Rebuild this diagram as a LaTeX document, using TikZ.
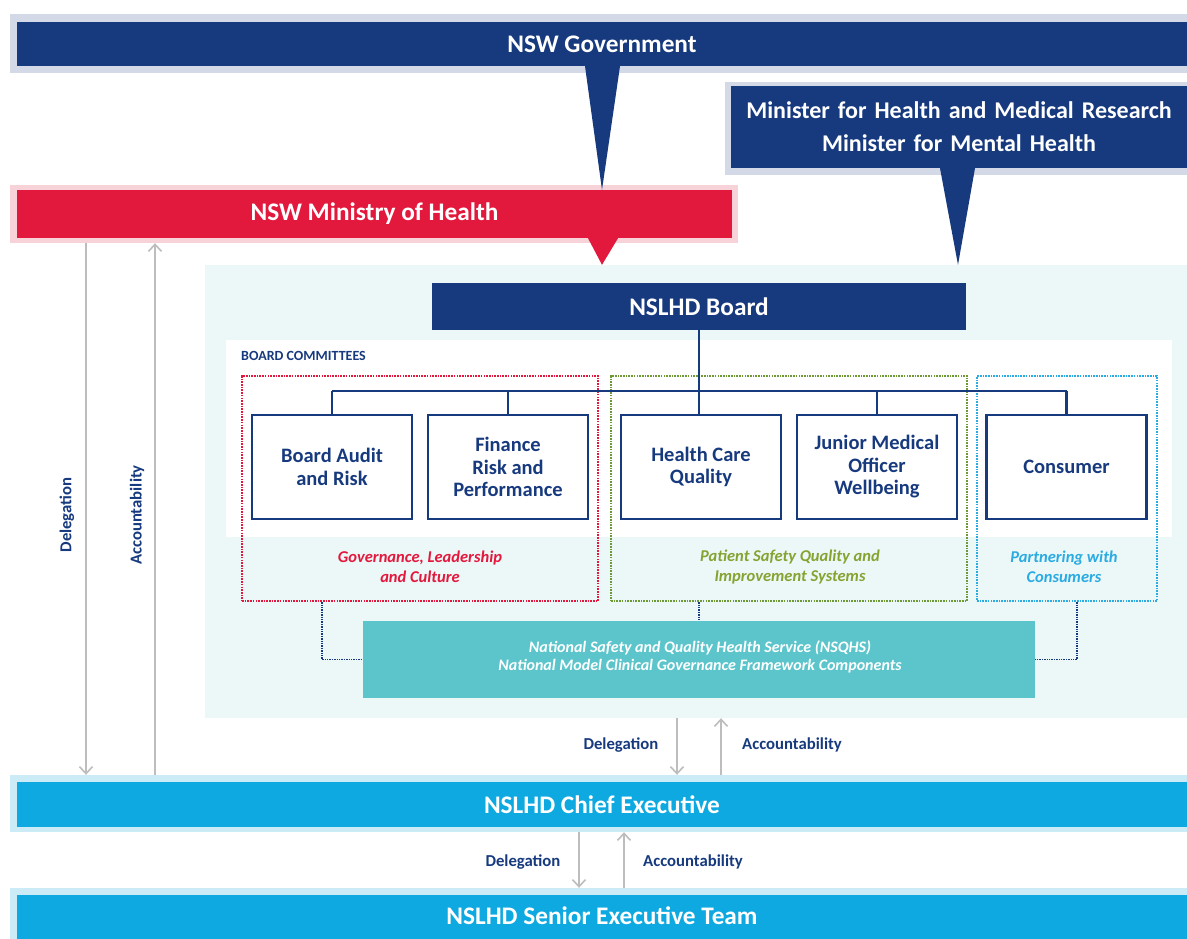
\documentclass[tikz,border=0pt]{standalone}
\usepackage{fontspec}
\setmainfont{Carlito}
\usetikzlibrary{arrows.meta,calc}
\definecolor{navy}{HTML}{173A7E}
\definecolor{navyband}{HTML}{D3D9E6}
\definecolor{mohred}{HTML}{E3183D}
\definecolor{pinkband}{HTML}{F7D2D9}
\definecolor{panelteal}{HTML}{ECF7F8}
\definecolor{nsqhs}{HTML}{5CC5CB}
\definecolor{cyanbar}{HTML}{0EA9E1}
\definecolor{cyanband}{HTML}{CBEBF7}
\definecolor{grnline}{HTML}{6E9A35}
\definecolor{grntext}{HTML}{86A332}
\definecolor{bluline}{HTML}{2AABE2}
\definecolor{arrowgrey}{HTML}{BDBDBD}
\tikzset{
  band/.style={fill=#1, draw=none, inner sep=0pt},
  bar/.style={fill=#1, draw=none, inner sep=0pt, text=white, font=\bfseries\fontsize{25.3}{30}\selectfont, align=center},
  combox/.style={draw=navy, line width=2.6pt, fill=white, minimum width=160pt, minimum height=104pt, inner sep=0pt, text=navy, align=center, font=\bfseries\fontsize{20.5}{22.5}\selectfont},
  grpbox/.style={draw=#1, line width=2.2pt, dash pattern=on 1.6pt off 1.1pt, minimum height=225pt, inner sep=0pt},
  grplabel/.style={font=\bfseries\itshape\fontsize{16.5}{20}\selectfont, text=#1, align=center, inner sep=0pt},
  tree/.style={draw=navy, line width=2.2pt},
  dotcon/.style={draw=navy, line width=1.9pt, dash pattern=on 1.4pt off 1pt},
  flow/.style={draw=arrowgrey, line width=2pt, -{Straight Barb[length=7pt,width=13pt,line width=1.6pt]}},
  flowlabel/.style={text=navy, font=\bfseries\fontsize{16.7}{18}\selectfont, inner sep=0pt}
}
\begin{document}
\begin{tikzpicture}[x=1pt,y=-1pt]
\useasboundingbox (0,0) rectangle (1187,938);
\fill[white] (0,0) rectangle (1187,938);

% NSW Government
\node[band=navyband, minimum width=1177pt, minimum height=59pt] (govband) at (598.5,43.5) {};
\node[bar=navy, minimum width=1170pt, minimum height=44pt] (gov) at (602,44) {NSW Government};

% Minister
\node[band=navyband, minimum width=462pt, minimum height=93pt] (minband) at (956,128.5) {};
\node[bar=navy, minimum width=456pt, minimum height=82pt, text width=456pt, font=\bfseries\fontsize{24}{29}\selectfont] (min) at (959,127)
  {Minister for Health and Medical Research\\[4pt]Minister for Mental Health};

% Ministry of Health
\node[band=pinkband, minimum width=728pt, minimum height=58pt] (mohband) at (374,214) {};
\node[bar=mohred, minimum width=715pt, minimum height=48pt] (moh) at (374.5,214) {NSW Ministry of Health};

% teal panel
\node[band=panelteal, minimum width=982pt, minimum height=453pt] (panel) at (696,491.5) {};

% pointers
\fill[navy] ($(gov.south)+(-17,0)$) -- ($(gov.south)+(18,0)$) -- (gov.south |- moh.north) -- cycle;
\fill[navy] ($(min.south)+(-19,0)$) -- ($(min.south)+(16,0)$) -- ($(min.south |- panel.north)+(-1,0)$) -- cycle;
\fill[mohred] ($(moh.south -| gov.south)+(-14,0)$) -- ($(moh.south -| gov.south)+(16,0)$) -- (gov.south |- panel.north) -- cycle;

% white committee panel
\node[band=white, minimum width=946pt, minimum height=197pt] (wpanel) at (699,438.5) {};
\node[anchor=west, text=navy, font=\bfseries\fontsize{14}{15}\selectfont, inner sep=0pt] (bctitle) at (241,356) {BOARD COMMITTEES};

% Board
\node[bar=navy, minimum width=534pt, minimum height=47pt] (board) at (699,306.5) {NSLHD Board};

% group dotted boxes
\node[grpbox=mohred, minimum width=356pt] (grpred) at (420,488.5) {};
\node[grpbox=grnline, minimum width=356pt] (grpgrn) at (789,488.5) {};
\node[grpbox=bluline, minimum width=180pt] (grpblu) at (1067,488.5) {};

% committee boxes
\node[combox] (bar) at (332,467) {Board Audit\\and Risk};
\node[combox] (frp) at (508,467) {Finance\\Risk and\\Performance};
\node[combox] (hcq) at (701,467) {Health Care\\Quality};
\node[combox] (jmo) at (877,467) {Junior Medical\\Officer\\Wellbeing};
\node[combox] (con) at (1066.5,467) {Consumer};

% tree
\coordinate (treey) at (0,391);
\draw[tree] (board.south) -- (board.south |- treey);
\draw[tree] (bar.north |- treey) -- (con.north |- treey);
\foreach \b in {bar,frp,jmo,con} \draw[tree] (\b.north |- treey) -- (\b.north);
\draw[tree] (board.south |- treey) -- (board.south |- hcq.north);

% group labels
\node[grplabel=mohred] (lred) at (420,567) {Governance, Leadership\\and Culture};
\node[grplabel=grntext] (lgrn) at (790,567) {Patient Safety Quality and\\Improvement Systems};
\node[grplabel=bluline] (lblu) at (1064,567) {Partnering with\\Consumers};

% NSQHS
\node[fill=nsqhs, minimum width=672pt, minimum height=77pt, inner sep=0pt] (nsq) at (699,659.5) {};
\node[text=white, font=\bfseries\itshape\fontsize{16}{18}\selectfont, align=center, inner sep=0pt] (nsqtext) at (700,657)
  {National Safety and Quality Health Service (NSQHS)\\National Model Clinical Governance Framework Components};

\draw[dotcon] ($(grpred.south west)+(81,0)$) |- (nsq.west);
\draw[dotcon] (nsq.north |- grpgrn.south) -- (nsq.north);
\draw[dotcon] ($(grpblu.south)+(10,0)$) |- (nsq.east);

% Chief executive
\node[band=cyanband, minimum width=1177pt, minimum height=57pt] (ceband) at (598.5,803.5) {};
\node[bar=cyanbar, minimum width=1170pt, minimum height=45pt] (ce) at (602,804.5) {NSLHD Chief Executive};

% Senior exec
\node[band=cyanband, minimum width=1177pt, minimum height=57pt] (setband) at (598.5,916.5) {};
\node[bar=cyanbar, minimum width=1170pt, minimum height=50pt] (set) at (602,920) {};
\node[text=white, font=\bfseries\fontsize{25.3}{30}\selectfont, inner sep=0pt] (settext) at (602,916) {NSLHD Senior Executive Team};

% left arrows
\draw[flow] (86,0 |- mohband.south) -- (86,0 |- ceband.north);
\draw[flow] (155,0 |- ceband.north) -- (155,0 |- mohband.south);
\node[flowlabel, rotate=90] (ldel) at (67,515) {Delegation};
\node[flowlabel, rotate=90] (lacc) at (137,515) {Accountability};

% middle arrows
\draw[flow] (677,0 |- panel.south) -- (677,0 |- ceband.north);
\draw[flow] (721,0 |- ceband.north) -- (721,0 |- panel.south);
\node[flowlabel] (mdel) at (621,745) {Delegation};
\node[flowlabel] (macc) at (792,745) {Accountability};

% bottom arrows
\draw[flow] (579,0 |- ceband.south) -- (579,0 |- setband.north);
\draw[flow] (624,0 |- setband.north) -- (624,0 |- ceband.south);
\node[flowlabel] (bdel) at (523,862) {Delegation};
\node[flowlabel] (bacc) at (693,862) {Accountability};
\end{tikzpicture}
\end{document}
